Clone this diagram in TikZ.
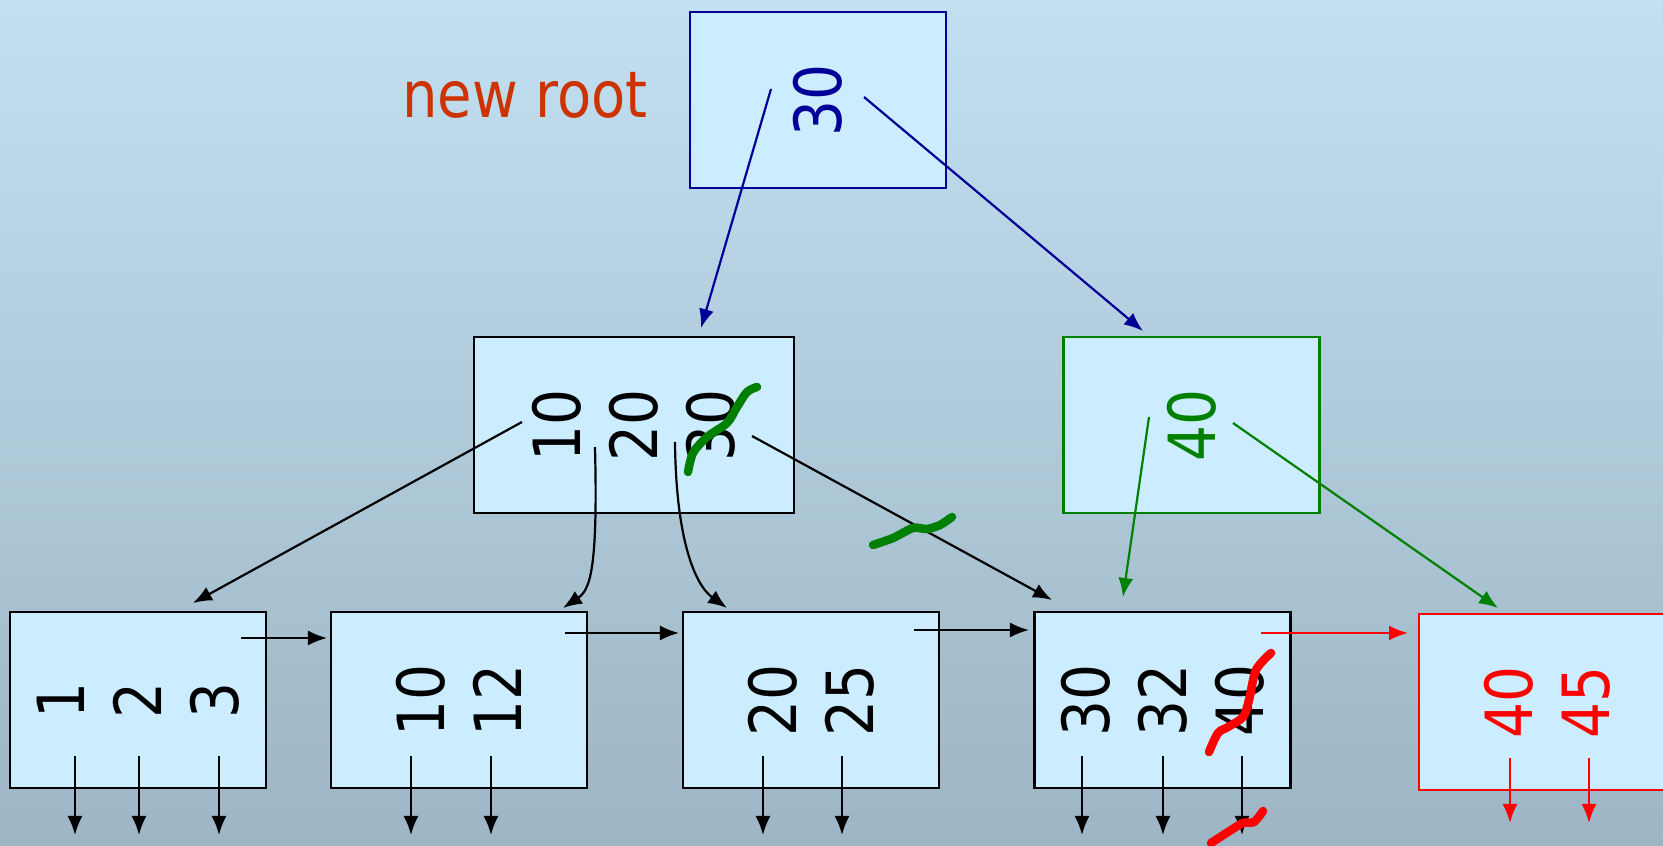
\documentclass[tikz,border=0pt]{standalone}
\usepackage{fontspec}
\usepackage{tikz}
\usetikzlibrary{arrows.meta}
\newfontfamily\keyfont[FakeStretch=0.87]{DejaVu Sans}
\definecolor{bgtop}{RGB}{194,224,241}
\definecolor{bgbot}{RGB}{157,181,196}
\definecolor{nodefill}{RGB}{204,236,255}
\definecolor{rootblue}{RGB}{0,0,153}
\definecolor{newgreen}{RGB}{0,128,0}
\definecolor{rootred}{RGB}{204,51,0}

\begin{document}
\begin{tikzpicture}[x=0.01cm, y=-0.01cm, line width=0.022cm,
    >={Latex[length=0.19cm, width=0.15cm]},
    box/.style={draw, fill=nodefill, rotate=90, align=center, inner sep=0pt,
        minimum width=1.76cm, minimum height=2.56cm,
        font=\keyfont\fontsize{18.5}{21.9}\selectfont},
    wide/.style={minimum height=3.2cm},
    scribble/.style={line width=0.085cm, line cap=round}]

    \useasboundingbox (0,0) rectangle (1663,846);
    \shade [top color=bgtop, bottom color=bgbot] (0,0) rectangle (1663,846);

    \node [box, draw=rootblue, text=rootblue] (r) at (818,100) {30};
    \node [anchor=base, text=rootred, font=\keyfont\fontsize{18.3}{22}\selectfont] (t) at (525,118) {new root};
    \node [box, wide] (m) at (634,425) {10\\20\\30};
    \node [box, draw=newgreen, text=newgreen] (n) at (1191.5,425) {40};
    \node [box] (a) at (138,700) {1\\2\\3};
    \node [box] (b) at (459,700) {10\\12};
    \node [box] (c) at (811,700) {20\\25};
    \node [box] (d) at (1162.5,700) {30\\32\\40};
    \node [box, draw=red, text=red] (e) at (1547,702) {40\\45};

    \coordinate (r1) at (771,89);
    \coordinate (r2) at (864,97);
    \coordinate (m0) at (701,328);
    \coordinate (n0) at (1143,331);
    \coordinate (m1) at (522,422);
    \coordinate (m2) at (595,447);
    \coordinate (m3) at (675,442);
    \coordinate (m4) at (752,436);
    \coordinate (n1) at (1149,417);
    \coordinate (n2) at (1233,423);
    \coordinate (a0) at (193,603);
    \coordinate (b0) at (563,608);
    \coordinate (c0) at (727,608);
    \coordinate (d0) at (1052,600);
    \coordinate (d1) at (1123,597);
    \coordinate (e0) at (1498,608);
    \coordinate (a1) at (241,638);
    \coordinate (b1) at (327,638);
    \coordinate (b2) at (565,633);
    \coordinate (c1) at (679,633);
    \coordinate (c2) at (914,630);
    \coordinate (d2) at (1029,630);
    \coordinate (d3) at (1261,633);
    \coordinate (e1) at (1408,633);

    \draw [->, rootblue] (r1) to (m0);
    \draw [->, rootblue] (r2) to (n0);
    \draw [->] (m1) to (a0);
    \draw [->] (m2) .. controls (598,570) and (590,590) .. (b0);
    \draw [->] (m3) .. controls (676,540) and (695,585) .. (c0);
    \draw [->] (m4) to (d0);
    \draw [->, newgreen] (n1) to (d1);
    \draw [->, newgreen] (n2) to (e0);
    \draw [->] (a1) to (b1);
    \draw [->] (b2) to (c1);
    \draw [->] (c2) to (d2);
    \draw [->, red] (d3) to (e1);

    \foreach \x in {75,139,219,411,491,763,842,1082,1163,1242} {
        \coordinate (p\x) at (\x,756);
        \coordinate (q\x) at (\x,835);
        \draw [->] (p\x) to (q\x);
    }
    \foreach \x in {1510,1589} {
        \coordinate (p\x) at (\x,758);
        \coordinate (q\x) at (\x,823);
        \draw [->, red] (p\x) to (q\x);
    }

    \draw [scribble, newgreen] plot [smooth] coordinates {(688,472) (693,453) (707,437) (727,423) (737,407) (747,392) (757,387)};
    \draw [scribble, newgreen] plot [smooth] coordinates {(873,545) (893,538) (913,528) (927,529) (940,525) (952,517)};
    \draw [scribble, red] plot [smooth] coordinates {(1209,752) (1218,733) (1228,727) (1243,717) (1249,700) (1256,670) (1271,653)};
    \draw [scribble, red] plot [smooth] coordinates {(1211,843) (1228,832) (1243,823) (1254,822) (1263,811)};

\end{tikzpicture}
\end{document}
